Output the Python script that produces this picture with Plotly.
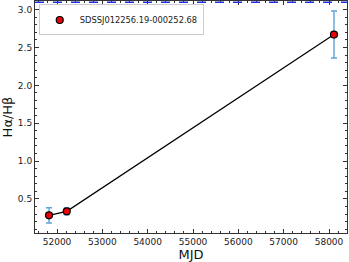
import plotly.graph_objects as go

mjd = [51823, 52214, 58110]
ratio = [0.283, 0.336, 2.672]
err = [0.10, 0.045, 0.31]
label = "SDSSJ012256.19-000252.68"
x_ticks = [52000, 53000, 54000, 55000, 56000, 57000, 58000]
y_ticks = [0.5, 1.0, 1.5, 2.0, 2.5, 3.0]
ref_line = 3.1

fig = go.Figure()
fig.add_trace(go.Scatter(
    x=mjd, y=ratio, mode="lines",
    line=dict(color="black", width=1.2),
    showlegend=False, hoverinfo="skip"))
fig.add_trace(go.Scatter(
    x=mjd, y=ratio, mode="markers",
    marker=dict(color="#e8000b", size=7, line=dict(color="black", width=1.2)),
    error_y=dict(type="data", array=err, color="#5ba3d9", thickness=1.4, width=3),
    name=label, showlegend=True))
fig.add_hline(y=ref_line, line=dict(color="#1f2fe0", width=1.5, dash="dash"))

axis_common = dict(
    showline=True, linecolor="#333", linewidth=1, mirror="ticks",
    ticks="inside", ticklen=4, tickcolor="#333", tickwidth=1,
    showgrid=False, zeroline=False, automargin=False,
    tickfont=dict(family="DejaVu Sans", size=9, color="#222"),
)
fig.update_xaxes(
    range=[51514, 58397], tickvals=x_ticks, ticktext=[str(v) for v in x_ticks],
    minor=dict(ticks="inside", ticklen=2, dtick=200, tickcolor="#333"),
    title=dict(text="MJD", font=dict(family="DejaVu Sans", size=13, color="#111"), standoff=0),
    **axis_common)
fig.update_yaxes(
    range=[0.05, 3.115], tickvals=y_ticks, ticktext=[f"{v:.1f}" for v in y_ticks],
    minor=dict(ticks="inside", ticklen=2, dtick=0.1, tickcolor="#333"),
    title=dict(text="Hα/Hβ", font=dict(family="DejaVu Sans", size=13, color="#111"), standoff=2),
    **axis_common)

fig.update_layout(
    width=349, height=262,
    margin=dict(l=35, r=2, t=1, b=29),
    plot_bgcolor="white", paper_bgcolor="white",
    legend=dict(x=0.012, y=0.985, xanchor="left", yanchor="top",
                bgcolor="white", bordercolor="#cccccc", borderwidth=1,
                font=dict(family="DejaVu Sans", size=8.3, color="#222"),
                itemwidth=30, tracegroupgap=0),
)
fig.write_html("out.html", config={"displayModeBar": False},
               post_script="document.body.style.margin='0';")
